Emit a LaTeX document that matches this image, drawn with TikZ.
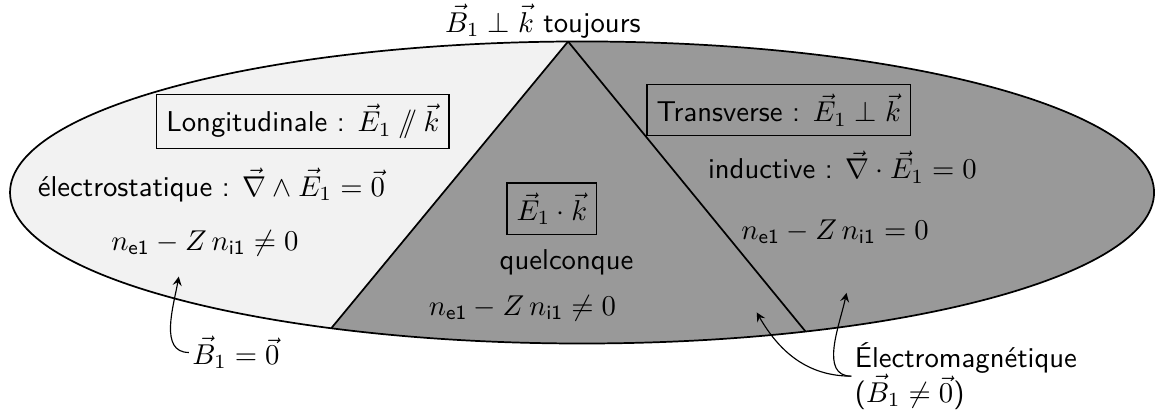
\documentclass[tikz,border=0pt]{standalone}
\usepackage{fontspec}
\usepackage{amsmath}
\begin{document}
\begin{tikzpicture}[
    font=\sffamily,
    zone/.style={rectangle, draw, thin},
    arrow/.style={->, >=stealth},
    contour/.style={semithick}
]
\useasboundingbox (-7.130,-2.726) rectangle (7.031,2.358);

% regions
\fill[black!5] (0,0) ellipse[x radius=7.007, y radius=1.85];
\fill[black!40] (91.4:7.007 and 1.85) -- (244:7.007 and 1.85)
    arc[start angle=244, end angle=451.4, x radius=7.007, y radius=1.85] -- cycle;

\coordinate (apex) at (91.4:7.007 and 1.85);
\coordinate (left) at (244:7.007 and 1.85);
\coordinate (right) at (293:7.007 and 1.85);
\draw[contour] (apex) -- (left);
\draw[contour] (apex) -- (right);
\draw[contour] (0,0) ellipse[x radius=7.007, y radius=1.85];

\node[anchor=south, inner sep=1pt] (toujours) at (-0.48,1.85) {$\vec{B}_1 \perp \vec{k}$ toujours};

\node[zone] (longi) at (-3.42,0.87) {Longitudinale : $\vec{E}_1 \mathbin{/\!\!/} \vec{k}$};
\node (electro) at (-4.54,0.09) {électrostatique : $\vec{\nabla} \wedge \vec{E}_1 = \vec{0}$};
\node (nlongi) at (-4.62,-0.62) {$n_{\mathsf{e1}} - Z\,n_{\mathsf{i1}} \neq 0$};

\node[zone] (prod) at (-0.37,-0.20) {$\vec{E}_1 \cdot \vec{k}$};
\node (quel) at (-0.19,-0.85) {quelconque};
\node (nquel) at (-0.73,-1.42) {$n_{\mathsf{e1}} - Z\,n_{\mathsf{i1}} \neq 0$};

\node[zone] (trans) at (2.41,1.01) {Transverse : $\vec{E}_1 \perp \vec{k}$};
\node (induc) at (3.19,0.31) {inductive : $\vec{\nabla} \cdot \vec{E}_1 = 0$};
\node (ntrans) at (3.10,-0.48) {$n_{\mathsf{e1}} - Z\,n_{\mathsf{i1}} = 0$};

\node[inner sep=1pt] (bnul) at (-4.24,-1.96) {$\vec{B}_1 = \vec{0}$};
\node[inner sep=1pt, anchor=west, align=left] (em) at (3.30,-2.25) {Électromagnétique\\($\vec{B}_1 \neq \vec{0}$)};

% arrow tips
\coordinate (tiplongi) at (-4.94,-1.03);
\coordinate (tipquel) at (2.14,-1.47);
\coordinate (tiptrans) at (3.24,-1.23);

\draw[arrow] (bnul.west) to[out=180, in=-100] (tiplongi);
\draw[arrow] (em.west) to[out=180, in=-60] (tipquel);
\draw[arrow] (em.west) to[out=180, in=-102] (tiptrans);

\end{tikzpicture}
\end{document}
